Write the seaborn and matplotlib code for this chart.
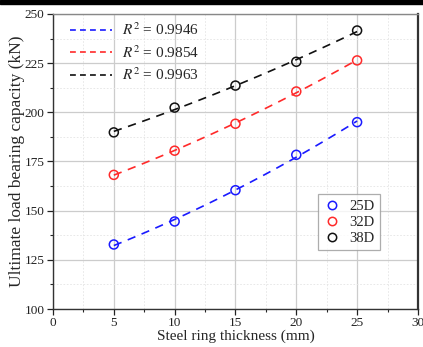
import numpy as np
import pandas as pd
import matplotlib
matplotlib.use("Agg")
import matplotlib.pyplot as plt
import seaborn as sns
from matplotlib.ticker import MultipleLocator
from matplotlib.lines import Line2D
from matplotlib.patches import Rectangle

thickness = [5, 10, 15, 20, 25]
load_25D = [132.8, 144.5, 160.4, 178.4, 195.0]
load_32D = [168.2, 180.5, 194.2, 210.6, 226.4]
load_38D = [189.8, 202.4, 213.6, 225.7, 241.6]
series_names = ["25D", "32D", "38D"]
r2_labels = ["$R^2$ = 0.9946", "$R^2$ = 0.9854", "$R^2$ = 0.9963"]
colors = ["#1a1aff", "#ff2a2a", "#111111"]

sns.set_style("ticks")
plt.rcParams["font.family"] = ["Liberation Serif", "DejaVu Serif"]
plt.rcParams["mathtext.fontset"] = "stix"

df = pd.DataFrame({
    "x": thickness * 3,
    "y": load_25D + load_32D + load_38D,
    "series": sum([[n] * len(thickness) for n in series_names], []),
})

fit_rows = []
xs = np.linspace(5, 25, 60)
for n, vals in zip(series_names, [load_25D, load_32D, load_38D]):
    c = np.polyfit(thickness, vals, 2)
    for xv in xs:
        fit_rows.append({"x": xv, "y": np.polyval(c, xv), "series": n})
fit = pd.DataFrame(fit_rows)

fig = plt.figure(figsize=(4.23, 3.47), dpi=100)
ax = fig.add_axes([0.1253, 0.1095, 0.8627, 0.8502])

palette = dict(zip(series_names, colors))
sns.lineplot(data=fit, x="x", y="y", hue="series", palette=palette, ax=ax,
             legend=False, linewidth=1.2)
for line in ax.get_lines():
    line.set_dashes((5, 4))
sns.scatterplot(data=df, x="x", y="y", hue="series", palette=palette, ax=ax,
                legend=False, s=42, marker="o", linewidth=1.1, zorder=5)
coll = ax.collections[-1]
coll.set_edgecolors([palette[s] for s in df["series"]])
coll.set_facecolors("none")

ax.set_xlim(0, 30)
ax.set_ylim(100, 250)
ax.xaxis.set_major_locator(MultipleLocator(5))
ax.xaxis.set_minor_locator(MultipleLocator(2.5))
ax.yaxis.set_major_locator(MultipleLocator(25))
ax.yaxis.set_minor_locator(MultipleLocator(12.5))
ax.grid(which="major", color="#cccccc", linewidth=0.9)
ax.grid(which="minor", color="#e4e4e4", linewidth=0.6, linestyle=(0, (2, 2)))
ax.set_axisbelow(True)
ax.tick_params(which="major", direction="out", length=4, width=0.9, labelsize=9.5,
               colors="#222222", pad=2)
ax.tick_params(which="minor", direction="out", length=2.5, width=0.8)
for s in ax.spines.values():
    s.set_linewidth(1.0)
    s.set_color("#333333")
ax.spines["right"].set_linewidth(1.6)
ax.spines["top"].set_color("#888888")
ax.set_xlabel("Steel ring thickness (mm)", fontsize=11, labelpad=0)
ax.set_ylabel("Ultimate load bearing capacity (kN)", fontsize=12.5, labelpad=0)

h1 = [Line2D([], [], color=c, linestyle=(0, (3.5, 2.5)), linewidth=1.2) for c in colors]
leg1 = ax.legend(h1, r2_labels, loc="upper left", frameon=False, fontsize=11,
                 handlelength=2.8, handletextpad=0.6, bbox_to_anchor=(0.008, 1.02),
                 labelspacing=0.38)
ax.add_artist(leg1)
h2 = [Line2D([], [], color=c, marker="o", linestyle="none", markerfacecolor="none",
             markersize=6, markeredgewidth=1.1) for c in colors]
leg2 = ax.legend(h2, series_names, loc="lower right", bbox_to_anchor=(0.896, 0.2),
                 borderaxespad=0, frameon=True, fancybox=False, fontsize=10.5,
                 handletextpad=0.6, handlelength=1.2, labelspacing=0.2, borderpad=0.35)
leg2.get_frame().set_edgecolor("#999999")
leg2.get_frame().set_linewidth(0.9)

fig.patches.append(Rectangle((0, 0.988), 1, 0.012, transform=fig.transFigure,
                             color="black", zorder=10))

fig.savefig("out.png", dpi=100)
